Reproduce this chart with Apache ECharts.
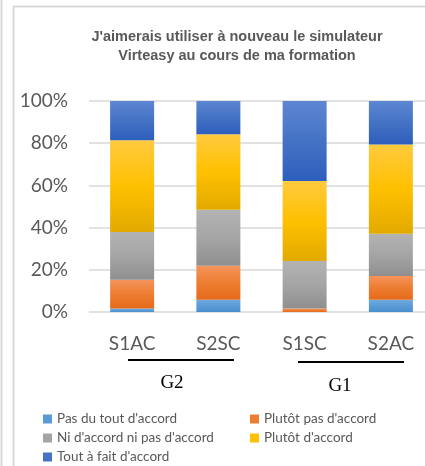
<!DOCTYPE html>
<html>
<head>
<meta charset="utf-8">
<script src="https://cdn.jsdelivr.net/npm/echarts@6/dist/echarts.min.js"></script>
<style>
  html, body { margin: 0; padding: 0; background: #fff; }
  #main { width: 425px; height: 466px; }
</style>
</head>
<body>
<div id="main"></div>
<script>
// categories and values (% of answers)
let categories = ['S1AC', 'S2SC', 'S1SC', 'S2AC']
let pasDuTout = [1.6, 5.8, 0, 5.8]
let plutotPas = [13.7, 16.1, 1.6, 11.3]
let niAccord = [22.6, 26.6, 22.6, 20.0]
let plutotAccord = [43.5, 35.8, 37.9, 42.3]
let toutAFait = [18.6, 15.7, 37.9, 20.6]
let yTicks = [0, 20, 40, 60, 80, 100]
let groups = ['G2', 'G1']

let names = ["Pas du tout d'accord", "Plutôt pas d'accord", "Ni d'accord ni pas d'accord", "Plutôt d'accord", "Tout à fait d'accord"]
let values = [pasDuTout, plutotPas, niAccord, plutotAccord, toutAFait]
// [top, middle, bottom] of the excel-like gradient
let shades = [
    ['#6eaae0', '#5b9bd5', '#4a8fd0'],
    ['#f4945c', '#ed7d31', '#e56a1a'],
    ['#b3b3b3', '#a5a5a5', '#8f8f8f'],
    ['#ffca3f', '#ffc000', '#e2aa00'],
    ['#5d86d2', '#4472c4', '#2e5ebd']
]

function grad(c) {
    return new echarts.graphic.LinearGradient(0, 0, 0, 1, [
        {offset: 0, color: c[0]},
        {offset: 0.5, color: c[1]},
        {offset: 1, color: c[2]}
    ])
}

let chart = echarts.init(document.getElementById('main'))
let font = 'Lato, "Liberation Sans", sans-serif'

let option = {
    animation: false,
    textStyle: {fontFamily: font},
    grid: {
        left: 89,
        width: 345,
        top: 101,
        bottom: 154,
        outerBoundsMode: 'none'
    },
    legend: {
        left: 38,
        top: 407,
        width: 425,
        itemWidth: 9,
        itemHeight: 9,
        itemGap: 5,
        icon: 'rect',
        selectedMode: false,
        textStyle: {
            color: '#595959',
            fontSize: 13.5,
            fontFamily: font,
            width: 188,
            lineHeight: 14
        },
        data: names.map((n, i) => ({name: n, itemStyle: {color: shades[i][1]}}))
    },
    xAxis: {
        type: 'category',
        data: categories,
        axisLine: {show: false},
        axisTick: {show: false},
        axisLabel: {color: '#595959', fontSize: 19, margin: 22, fontFamily: font}
    },
    yAxis: {
        type: 'value',
        min: yTicks[0],
        max: yTicks[yTicks.length - 1],
        interval: yTicks[1] - yTicks[0],
        axisLabel: {color: '#595959', fontSize: 19, margin: 21, formatter: '{value}%', fontFamily: font},
        splitLine: {lineStyle: {color: '#d9d9d9', width: 1.5}}
    },
    graphic: [
        // frame
        {type: 'line', shape: {x1: 1.5, y1: 0, x2: 1.5, y2: 466}, style: {stroke: '#d9d9d9', lineWidth: 2}},
        {type: 'polyline', shape: {points: [[13.5, 466], [13.5, 6.5], [425, 6.5]]}, style: {stroke: '#d9d9d9', lineWidth: 2, fill: null}},
        {
            type: 'text', x: 237, y: 27,
            style: {
                text: "J'aimerais utiliser à nouveau le simulateur\nVirteasy au cours de ma formation",
                fill: '#595959', font: 'bold 14.5px "Liberation Sans", Arial, sans-serif', align: 'center', lineHeight: 19.5
            }
        },
        // group brackets
        {type: 'line', shape: {x1: 128, y1: 360, x2: 234, y2: 360}, style: {stroke: '#000', lineWidth: 2}},
        {type: 'line', shape: {x1: 298, y1: 362, x2: 404, y2: 362}, style: {stroke: '#000', lineWidth: 2}},
        {type: 'text', x: 172, y: 383, style: {text: groups[0], fill: '#000', font: '19px "Liberation Serif", serif', align: 'center', verticalAlign: 'middle'}},
        {type: 'text', x: 340, y: 386, style: {text: groups[1], fill: '#000', font: '19px "Liberation Serif", serif', align: 'center', verticalAlign: 'middle'}}
    ],
    series: names.map((n, i) => ({
        name: n,
        type: 'bar',
        stack: 'total',
        barWidth: 44,
        silent: true,
        itemStyle: {color: grad(shades[i])},
        data: values[i]
    }))
}
chart.setOption(option)
</script>
</body>
</html>
